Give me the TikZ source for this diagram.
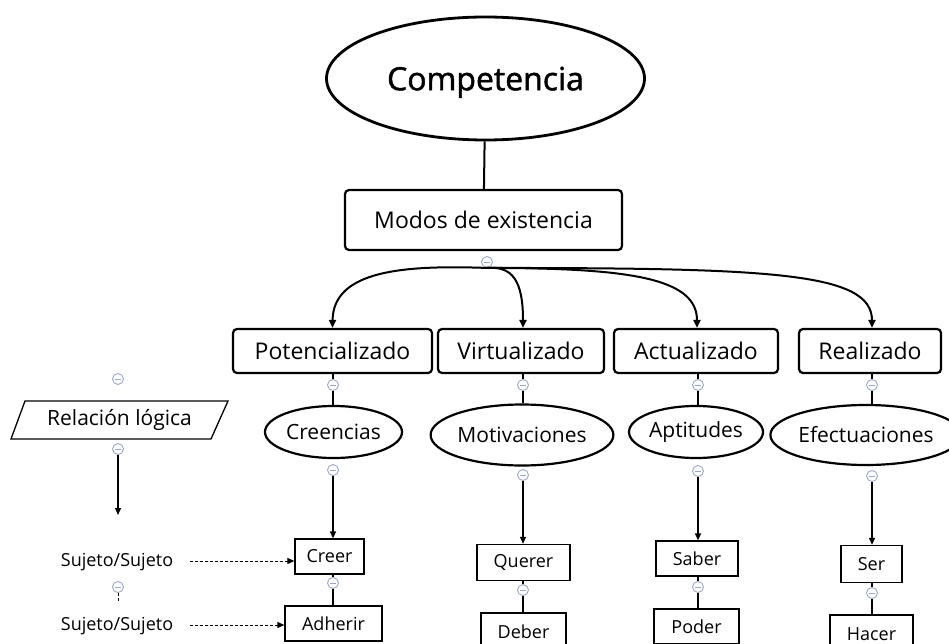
\documentclass[tikz,border=0pt]{standalone}
\usepackage{fontspec}
\setmainfont{Open Sans}
\newfontfamily\compfont[FakeBold=1.5]{Open Sans}
\usetikzlibrary{shapes.geometric,arrows.meta}
\definecolor{mc}{HTML}{9AA8C8}
\begin{document}
\begin{tikzpicture}[x=1pt,y=-1pt,
 every node/.style={inner sep=0pt, text=black},
 rbox/.style={draw, line width=2.2pt, rounded corners=4pt, minimum height=44pt, font=\fontsize{23}{27}\selectfont},
 ell/.style={draw, ellipse, line width=2.2pt, font=\fontsize{21}{25}\selectfont},
 sbox/.style={draw, line width=1.3pt, font=\fontsize{18}{22}\selectfont},
 lbl/.style={font=\fontsize{18}{22}\selectfont},
 mbtn/.style={circle, draw=mc, fill=white, minimum size=11pt, line width=0.9pt,
   path picture={\draw[mc,line width=0.9pt] ([xshift=-2.8pt]path picture bounding box.center) -- ([xshift=2.8pt]path picture bounding box.center);}},
 conn/.style={line width=1.4pt},
 arr/.style={line width=1.3pt, -{Triangle[length=7pt,width=6pt]}},
 carr/.style={line width=2pt, -{Triangle[length=8pt,width=7pt]}},
 darr/.style={line width=1pt, densely dashed, -{Triangle[length=7pt,width=6pt]}},
]
\useasboundingbox (0,0) rectangle (949,644);

% top
\node[draw, ellipse, line width=2.8pt, minimum width=318pt, minimum height=123pt, text depth=0pt,
      font=\compfont\fontsize{32}{38}\selectfont] (comp) at (485.5,78.5) {Competencia};
\node[rbox, minimum width=277pt, minimum height=60pt] (modos) at (483.5,220) {Modos de existencia};
\draw[line width=2pt] (comp) -- (modos);
\node[mbtn] (mmod) at (487,262) {};

% level 2
\node[rbox, minimum width=199pt] (pot) at (332.5,351) {Potencializado};
\node[rbox, minimum width=166pt] (vir) at (521,351) {Virtualizado};
\node[rbox, minimum width=164pt] (act) at (696,351) {Actualizado};
\node[rbox, minimum width=142pt] (rea) at (870,351) {Realizado};

\draw[carr] (mmod.south) .. controls (405,265) and (333,270) .. (pot.north);
\draw[carr] (mmod.south) .. controls (512,266) and (523,280) .. (vir.north -| 523,0);
\draw[carr] (mmod.south) .. controls (630,268) and (697,278) .. (act.north -| 697,0);
\draw[carr] (mmod.south) .. controls (770,268) and (872,272) .. (rea.north -| 872,0);

% minus under level 2
\node[mbtn] (mp1) at (333,385) {};
\node[mbtn] (mp2) at (523,385) {};
\node[mbtn] (mp3) at (698,385) {};
\node[mbtn] (mp4) at (872,385) {};

% ellipses
\node[ell, minimum width=137pt, minimum height=52pt] (cre) at (333.5,432) {Creencias};
\node[ell, minimum width=174pt, minimum height=61pt] (mot) at (522,435) {Motivaciones};
\node[ell, minimum width=134pt, minimum height=52pt] (apt) at (696,432) {Aptitudes};
\node[ell, minimum width=164pt, minimum height=60pt] (efe) at (866,435) {Efectuaciones};

\foreach \m/\a/\b in {mp1/pot/cre, mp2/vir/mot, mp3/act/apt, mp4/rea/efe}{
  \draw[conn] (\m |- \a.south) -- (\m);
  \draw[conn] (\m) -- (\m |- \b.north);
}

% minus under ellipses
\node[mbtn] (mc1) at (333,470) {};
\node[mbtn] (mc2) at (523,475) {};
\node[mbtn] (mc3) at (698,471) {};
\node[mbtn] (mc4) at (872,476) {};

% small boxes
\node[sbox, minimum width=69pt, minimum height=35pt] (creer) at (329.5,556.5) {Creer};
\node[sbox, minimum width=97pt, minimum height=35pt] (adh) at (333.5,623.5) {Adherir};
\node[sbox, minimum width=93pt, minimum height=36pt] (que) at (523.5,562.5) {Querer};
\node[sbox, minimum width=85pt, minimum height=38pt] (deb) at (523.5,632) {Deber};
\node[sbox, minimum width=82pt, minimum height=35pt] (sab) at (697,558.5) {Saber};
\node[sbox, minimum width=85pt, minimum height=35pt] (pod) at (696.5,626.5) {Poder};
\node[sbox, minimum width=61pt, minimum height=37pt] (ser) at (871.5,564) {Ser};
\node[sbox, minimum width=83pt, minimum height=38pt] (hac) at (871.5,634) {Hacer};

\foreach \m/\b in {mc1/creer, mc2/que, mc3/sab, mc4/ser}{
  \draw[arr] (\m) -- (\m |- \b.north);
}

% minus between small boxes
\node[mbtn] (ms1) at (333,583) {};
\node[mbtn] (ms2) at (523,590) {};
\node[mbtn] (ms3) at (698,587) {};
\node[mbtn] (ms4) at (872,593) {};

\foreach \m/\a/\b in {ms1/creer/adh, ms2/que/deb, ms3/sab/pod, ms4/ser/hac}{
  \draw[conn] (\m |- \a.south) -- (\m);
  \draw[conn] (\m) -- (\m |- \b.north);
}

% left column
\node[mbtn] (ml1) at (118,379) {};
\node[font=\fontsize{21}{25}\selectfont] (rel) at (119.5,420) {Relación lógica};
\draw[line width=1.3pt] (25,401) -- (228,401) -- (211,439) -- (11,439) -- cycle;
\node[mbtn] (ml2) at (118,449) {};
\coordinate (aend) at (118,515);
\draw[arr] (ml2) -- (aend);

\node[lbl] (suj1) at (117,562) {Sujeto/Sujeto};
\node[lbl] (suj2) at (117,626) {Sujeto/Sujeto};
\node[mbtn] (ml3) at (118,587) {};
\draw[line width=1pt, densely dashed] (ml3.south) -- ++(0,8);

\draw[darr] ([xshift=17pt]suj1.east |- 0,561) -- (creer.west |- 0,561);
\draw[darr] ([xshift=17pt]suj2.east |- 0,625) -- (adh.west |- 0,625);
\end{tikzpicture}
\end{document}
